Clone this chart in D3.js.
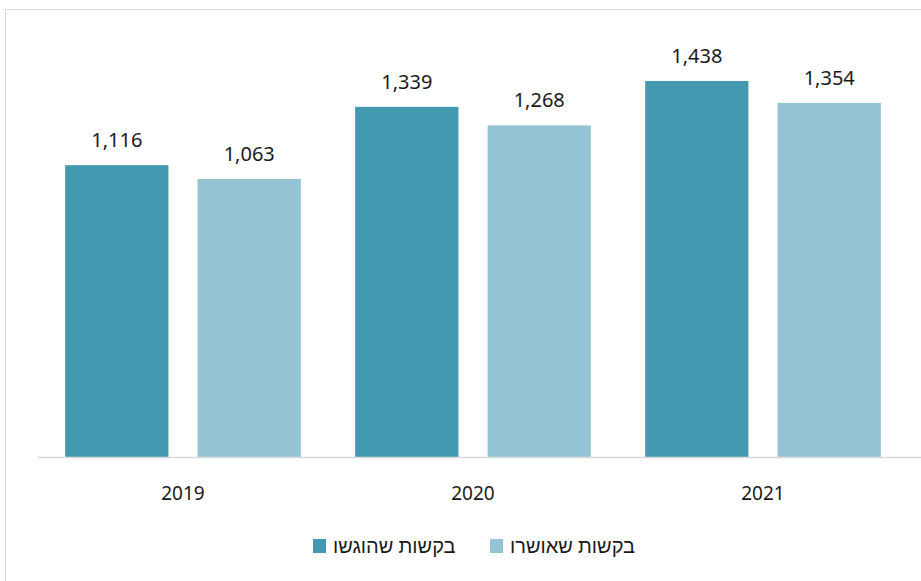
<!DOCTYPE html>
<html>
<head>
<meta charset="utf-8">
<script src="https://cdn.jsdelivr.net/npm/d3@7"></script>
<style>
  body { margin: 0; background: #fff; }
  svg text { font-family: "Noto Sans", "Liberation Sans", "DejaVu Sans", sans-serif; fill: #1a1a1a; }
</style>
</head>
<body>
<svg id="chart" width="921" height="581"></svg>
<script>
// datos del grafico
const years = ['2019', '2020', '2021'];
const seriesNames = ['בקשות שהוגשו', 'בקשות שאושרו'];
const submitted = [1116, 1339, 1438];
const approved = [1063, 1268, 1354];
const colors = ['#4399af', '#94c3d4'];

const svg = d3.select('#chart');

// marco del grafico
svg.append('rect')
  .attr('x', 5.5).attr('y', 9.5)
  .attr('width', 930).attr('height', 600)
  .attr('fill', 'none')
  .attr('stroke', '#d9d9d9');

const x = d3.scaleBand().domain(years).range([38, 908]);
const inner = d3.scaleBand().domain([0, 1]).range([0, x.bandwidth()]).paddingInner(0.22).paddingOuter(0.205);
const y = d3.scaleLinear().domain([0, 1600]).range([457, 38.6]);

const rows = years.map((yr, i) => ({ year: yr, values: [submitted[i], approved[i]] }));

const groups = svg.append('g').selectAll('g')
  .data(rows)
  .join('g')
  .attr('transform', d => `translate(${x(d.year)},0)`);

groups.selectAll('rect')
  .data(d => d.values.map((v, k) => ({ v, k })))
  .join('rect')
  .attr('x', d => inner(d.k))
  .attr('width', inner.bandwidth())
  .attr('y', d => y(d.v))
  .attr('height', d => y(0) - y(d.v))
  .attr('fill', d => colors[d.k]);

groups.selectAll('text.val')
  .data(d => d.values.map((v, k) => ({ v, k })))
  .join('text')
  .attr('class', 'val')
  .attr('x', d => inner(d.k) + inner.bandwidth() / 2)
  .attr('y', d => y(d.v) - 18)
  .attr('text-anchor', 'middle')
  .attr('font-size', 20)
  .text(d => d3.format(',')(d.v));

// eje x
svg.append('line')
  .attr('x1', 38).attr('x2', 921)
  .attr('y1', 457.5).attr('y2', 457.5)
  .attr('stroke', '#d9d9d9').attr('stroke-width', 1.5);

svg.append('g').selectAll('text')
  .data(years)
  .join('text')
  .attr('x', d => x(d) + x.bandwidth() / 2)
  .attr('y', 500)
  .attr('text-anchor', 'middle')
  .attr('font-size', 19)
  .text(d => d);

// leyenda
const legendItems = [
  { name: seriesNames[0], color: colors[0], sx: 313 },
  { name: seriesNames[1], color: colors[1], sx: 490 }
];
const legend = svg.append('g');
legendItems.forEach(it => {
  legend.append('rect')
    .attr('x', it.sx).attr('y', 539)
    .attr('width', 13).attr('height', 14)
    .attr('fill', it.color);
  legend.append('text')
    .attr('x', it.sx + 20)
    .attr('y', 553)
    .attr('font-size', 20)
    .attr('direction', 'rtl')
    .attr('text-anchor', 'end')
    .text(it.name);
});
</script>
</body>
</html>
